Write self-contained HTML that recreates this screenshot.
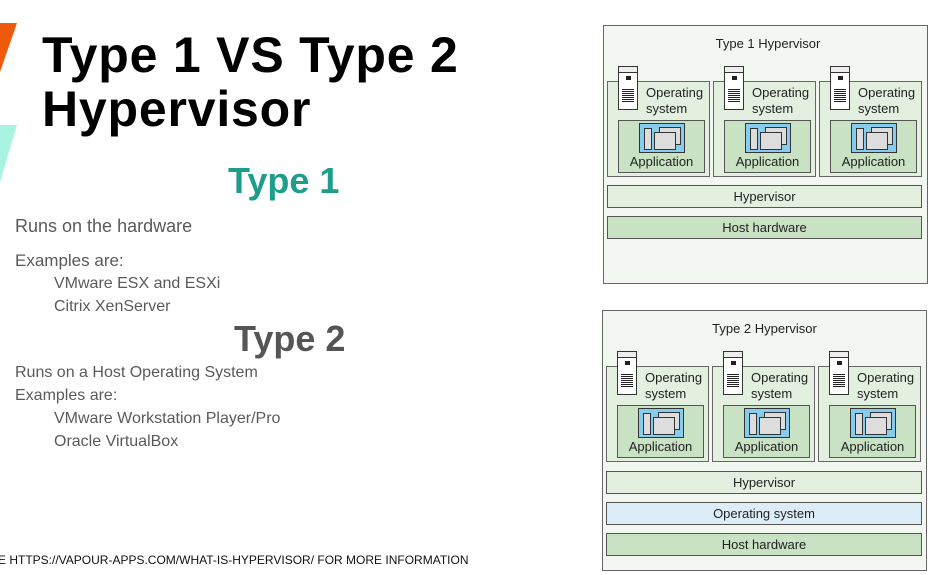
<!DOCTYPE html>
<html><head><meta charset="utf-8"><style>
body{margin:0;width:938px;height:575px;overflow:hidden;background:#fff;position:relative;font-family:"Liberation Sans",sans-serif}
.a{position:absolute}
.outer{position:absolute;background:#f2f7f1;border:1px solid #666;box-sizing:border-box}
.vm{position:absolute;width:103px;height:96px;background:#e3f0e0;border:1px solid #666;box-sizing:border-box}
.srv{position:absolute;left:10px;top:-16px;width:20px;height:44px;background:#fff;border:1px solid #333;box-sizing:border-box}
.srv:before{content:"";position:absolute;left:0;right:0;top:0;height:5px;border-bottom:1px solid #333;background:#eee}
.srv i{position:absolute;left:7px;top:9px;width:5px;height:4px;background:#222}
.srv b{position:absolute;left:3px;top:22px;width:12px;height:14px;background:repeating-linear-gradient(#222 0 1px,#fff 1px 2px)}
.ost{position:absolute;left:38px;top:3px;font-size:13px;line-height:16px;color:#222}
.app{position:absolute;left:10px;top:38px;width:87px;height:53px;background:#c8e2c3;border:1px solid #555;box-sizing:border-box}
.blue{position:absolute;left:20px;top:2px;width:46px;height:30px;background:#86ccee;border:1px solid #333;box-sizing:border-box}
.blue .p{position:absolute;left:4px;top:4px;width:6px;height:20px;background:#ddd;border:1px solid #333}
.blue .w1{position:absolute;left:19px;top:3px;width:20px;height:16px;background:#ddd;border:1px solid #333}
.blue .w2{position:absolute;left:14px;top:8px;width:20px;height:16px;background:#ddd;border:1px solid #333}
.al{position:absolute;left:0;right:0;top:33px;text-align:center;font-size:13px;color:#222}
.bar{position:absolute;height:23px;border:1px solid #555;box-sizing:border-box;text-align:center;font-size:13px;line-height:21px;color:#222}
.l{position:absolute;font-family:"Liberation Sans",sans-serif;color:#5a5a5a;font-size:16px}
</style></head><body>
<svg class="a" style="left:0;top:0" width="30" height="200"><polygon points="0,23 17,23 0,72" fill="#ee5a0a"/><polygon points="0,125 17,125 0,182" fill="#a8f3e2"/></svg>
<div class="a" style="left:42px;top:28px;font-size:50px;font-weight:bold;line-height:54px;color:#000;letter-spacing:0.8px">Type 1 VS Type 2<br>Hypervisor</div>
<div class="a" style="left:228px;top:160px;font-size:36px;font-weight:bold;color:#1e9e8a">Type 1</div>
<div class="l" style="left:15px;top:216px;font-size:18px">Runs on the hardware</div>
<div class="l" style="left:15px;top:251px;font-size:17px">Examples are:</div>
<div class="l" style="left:54px;top:275px">VMware ESX and ESXi</div>
<div class="l" style="left:54px;top:298px">Citrix XenServer</div>
<div class="a" style="left:234px;top:318px;font-size:36px;font-weight:bold;color:#555">Type 2</div>
<div class="l" style="left:15px;top:364px">Runs on a Host Operating System</div>
<div class="l" style="left:15px;top:387px">Examples are:</div>
<div class="l" style="left:54px;top:410px">VMware Workstation Player/Pro</div>
<div class="l" style="left:54px;top:433px">Oracle VirtualBox</div>
<div class="a" style="left:-2px;top:553px;font-size:12px;color:#111">E HTTPS://VAPOUR-APPS.COM/WHAT-IS-HYPERVISOR/ FOR MORE INFORMATION</div>

<div class="outer" style="left:603px;top:25px;width:325px;height:259px"></div>
<div class="a" style="left:603px;top:36px;width:330px;text-align:center;font-size:13px;color:#222">Type 1 Hypervisor</div>
<div class="vm" style="left:607px;top:81px"><div class="srv"><i></i><b></b></div><div class="ost">Operating<br>system</div><div class="app"><div class="blue"><div class="p"></div><div class="w1"></div><div class="w2"></div></div><div class="al">Application</div></div></div>
<div class="vm" style="left:713px;top:81px"><div class="srv"><i></i><b></b></div><div class="ost">Operating<br>system</div><div class="app"><div class="blue"><div class="p"></div><div class="w1"></div><div class="w2"></div></div><div class="al">Application</div></div></div>
<div class="vm" style="left:819px;top:81px"><div class="srv"><i></i><b></b></div><div class="ost">Operating<br>system</div><div class="app"><div class="blue"><div class="p"></div><div class="w1"></div><div class="w2"></div></div><div class="al">Application</div></div></div>
<div class="bar" style="left:607px;top:185px;width:315px;background:#e3f0e0">Hypervisor</div>
<div class="bar" style="left:607px;top:216px;width:315px;background:#c8e2c3">Host hardware</div>

<div class="outer" style="left:602px;top:310px;width:325px;height:261px"></div>
<div class="a" style="left:602px;top:321px;width:325px;text-align:center;font-size:13px;color:#222">Type 2 Hypervisor</div>
<div class="vm" style="left:606px;top:366px"><div class="srv"><i></i><b></b></div><div class="ost">Operating<br>system</div><div class="app"><div class="blue"><div class="p"></div><div class="w1"></div><div class="w2"></div></div><div class="al">Application</div></div></div>
<div class="vm" style="left:712px;top:366px"><div class="srv"><i></i><b></b></div><div class="ost">Operating<br>system</div><div class="app"><div class="blue"><div class="p"></div><div class="w1"></div><div class="w2"></div></div><div class="al">Application</div></div></div>
<div class="vm" style="left:818px;top:366px"><div class="srv"><i></i><b></b></div><div class="ost">Operating<br>system</div><div class="app"><div class="blue"><div class="p"></div><div class="w1"></div><div class="w2"></div></div><div class="al">Application</div></div></div>
<div class="bar" style="left:606px;top:471px;width:316px;background:#e3f0e0">Hypervisor</div>
<div class="bar" style="left:606px;top:502px;width:316px;background:#dcedf7">Operating system</div>
<div class="bar" style="left:606px;top:533px;width:316px;background:#c8e2c3">Host hardware</div>
</body></html>
